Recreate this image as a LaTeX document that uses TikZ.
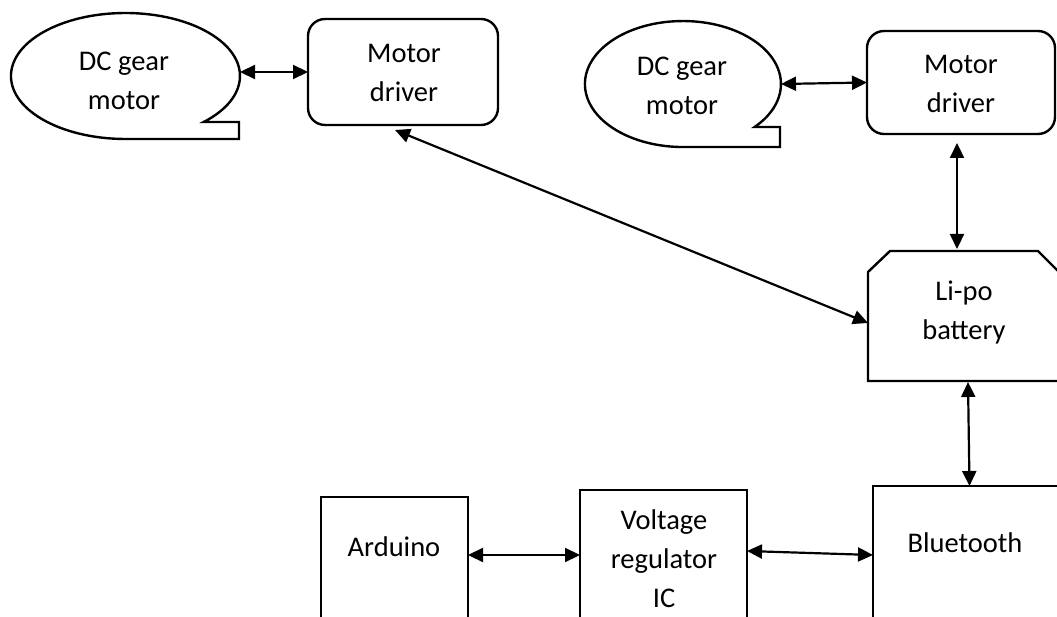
\documentclass[tikz,border=0pt]{standalone}
\usepackage{fontspec}
\setmainfont{Carlito}
\usetikzlibrary{arrows.meta,shapes.geometric,calc}
\begin{document}
\begin{tikzpicture}[x=1pt,y=1pt,yscale=-1,
  shp/.style={draw=black, line width=2.4pt, line join=miter},
  anch/.style={inner sep=0pt, outer sep=0pt},
  box/.style={shp, anch, rectangle, anchor=north west},
  lbl/.style={font=\fontsize{28.5pt}{39pt}\selectfont, align=center, inner sep=0pt, anchor=base},
  link/.style={line width=2.2pt, {Triangle[length=15pt,width=14pt]}-{Triangle[length=15pt,width=14pt]}}
]
\useasboundingbox (0,0) rectangle (1057,617);
\clip (0,0) rectangle (1057,617);
\fill[white] (0,0) rectangle (1057,617);

% left callout
\draw[shp] (203.7,122) arc[start angle=46.9, end angle=-270, x radius=114.5, y radius=63]
  -- (239,139) -- (239,122) -- cycle;
\node[anch, ellipse, minimum width=229pt, minimum height=126pt] (dc1) at (125.5,76) {};
\node[lbl] (dc1t) at (124,110) {DC gear\\motor};

% left motor driver
\node[box, rounded corners=17pt, minimum width=190pt, minimum height=106pt] (md1) at (308,19) {};
\node[lbl] (md1t) at (404,102) {Motor\\driver};

% right callout
\draw[shp] (754.6,127) arc[start angle=43.0, end angle=-270, x radius=98, y radius=63]
  -- (780,147) -- (780,127) -- cycle;
\node[anch, ellipse, minimum width=196pt, minimum height=126pt] (dc2) at (683,84) {};
\node[lbl] (dc2t) at (682,115) {DC gear\\motor};

% right motor driver
\node[box, rounded corners=17pt, minimum width=188pt, minimum height=103pt] (md2) at (867,31) {};
\node[lbl] (md2t) at (961,113) {Motor\\driver};

% Li-po battery
\draw[shp] (868,272) -- (890,251) -- (1038,251) -- (1060,273) -- (1060,381) -- (868,381) -- cycle;
\node[anch, rectangle, minimum width=192pt, minimum height=130pt] (lipo) at (964,316) {};
\node[lbl] (lipot) at (964,340) {Li-po\\battery};

% Bluetooth
\node[box, minimum width=187pt, minimum height=230pt] (bt) at (873,486) {};
\node[lbl] (btt) at (965,552) {Bluetooth};

% Arduino
\node[box, minimum width=147pt, minimum height=230pt] (ard) at (321,497) {};
\node[lbl] (ardt) at (394,556) {Arduino};

% Voltage regulator
\node[box, minimum width=167pt, minimum height=230pt] (vr) at (580,490) {};
\node[lbl] (vrt) at (664,607) {Voltage\\regulator\\IC};

% connectors
\draw[link] ($(dc1.east)+(0,-4)$) -- (md1.west);
\draw[link] (dc2.east) -- (md2.west);
\draw[link] ($(md1.south)+(-8,5)$) -- ($(lipo.west)+(0,7)$);
\draw[link] ($(md2.south)+(-4,9)$) -- ($(lipo.north)+(-7,-2)$);
\draw[link] ($(lipo.south)+(4,1)$) -- ($(bt.north)+(3,0)$);
\draw[link] ($(ard.north east)+(0,58)$) -- ($(vr.north west)+(0,65)$);
\draw[link] ($(vr.north east)+(0,61)$) -- ($(bt.north west)+(0,69)$);
\end{tikzpicture}
\end{document}
